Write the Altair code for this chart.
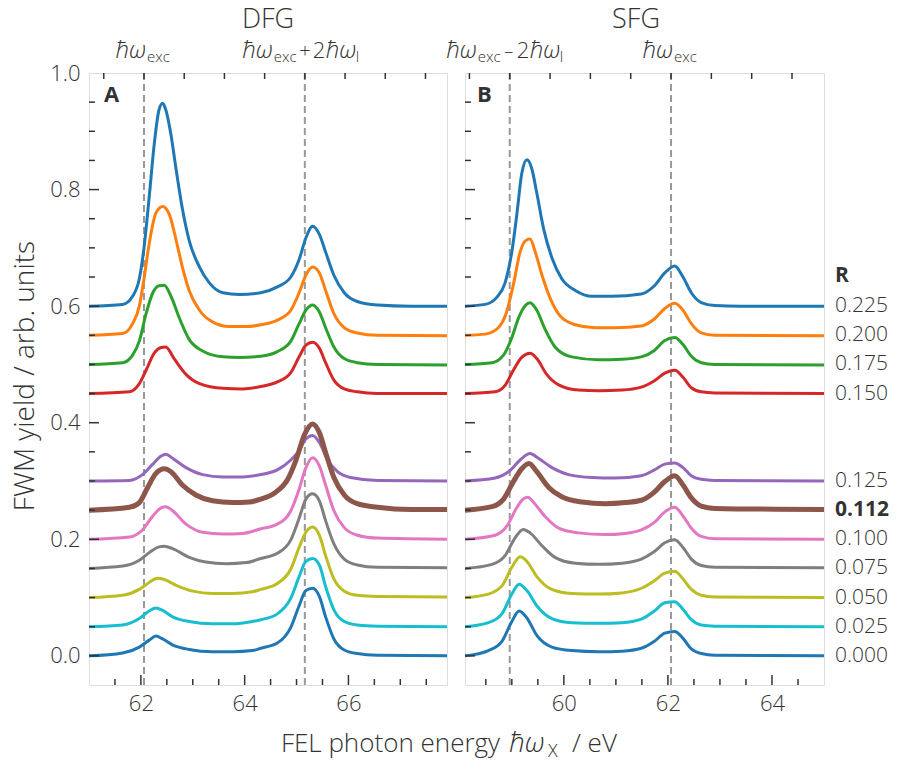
import altair as alt
import pandas as pd

FONT = "Open Sans"
TXT = "#333333"

# ---------------- data ----------------
R_LABELS = ["0.225", "0.200", "0.175", "0.150", "0.125", "0.112",
            "0.100", "0.075", "0.050", "0.025", "0.000"]
OFFSETS = [0.60, 0.55, 0.50, 0.45, 0.30, 0.25, 0.20, 0.15, 0.10, 0.05, 0.00]
COLORS = ["#1f77b4", "#ff7f0e", "#2ca02c", "#d62728", "#9467bd", "#8c564b",
          "#e377c2", "#7f7f7f", "#bcbd22", "#17becf", "#1f77b4"]
R_TITLE_Y = 0.652

# resonance positions (eV)
DASH_A = [62.06, 65.16]
DASH_B = [58.96, 62.06]
TOP_TICKS_A = [61.285, 62.06, 62.835, 63.61, 64.385, 65.16, 65.935, 66.71, 67.485]
TOP_TICKS_B = [58.185, 58.96, 59.735, 60.51, 61.285, 62.06, 62.835, 63.61, 64.385]
X_MAJOR_A = [62, 64, 66]
X_MINOR_A = [61.5, 62.5, 63, 63.5, 64.5, 65, 65.5, 66.5, 67, 67.5]
X_MAJOR_B = [60, 62, 64]
X_MINOR_B = [58.5, 59, 59.5, 60.5, 61, 61.5, 62.5, 63, 63.5, 64.5]
Y_MAJOR = [0.0, 0.2, 0.4, 0.6, 0.8]
Y_MINOR = [0.05, 0.1, 0.15, 0.25, 0.3, 0.35, 0.45, 0.5, 0.55, 0.65, 0.7,
           0.75, 0.85, 0.9, 0.95]
Y_LABELS = [0.0, 0.2, 0.4, 0.6, 0.8, 1.0]

# ---- panel A (DFG) curves ----
A0225_X = [61.00, 61.65, 61.84, 61.97, 62.06, 62.16, 62.26, 62.35, 62.42, 62.48, 62.58, 62.68, 62.80, 62.93, 63.13, 63.32, 63.58, 63.90,
           64.31, 64.63, 64.89, 65.05, 65.18, 65.31, 65.44, 65.56, 65.72, 65.92, 66.17, 66.56, 67.20, 67.90]
A0225_Y = [0.600, 0.603, 0.617, 0.647, 0.700, 0.787, 0.880, 0.937, 0.948, 0.937, 0.894, 0.834, 0.767, 0.713, 0.667, 0.640, 0.623, 0.620,
           0.623, 0.633, 0.650, 0.680, 0.717, 0.737, 0.723, 0.693, 0.653, 0.623, 0.608, 0.602, 0.600, 0.600]
A0200_X = [61.00, 61.65, 61.84, 61.97, 62.06, 62.16, 62.29, 62.42, 62.55, 62.68, 62.80, 62.93, 63.13, 63.38, 63.70, 64.03,
           64.31, 64.63, 64.89, 65.05, 65.18, 65.31, 65.44, 65.56, 65.72, 65.92, 66.17, 66.56, 67.90]
A0200_Y = [0.550, 0.553, 0.570, 0.600, 0.647, 0.707, 0.760, 0.771, 0.757, 0.713, 0.667, 0.627, 0.593, 0.573, 0.565, 0.565,
           0.568, 0.576, 0.593, 0.623, 0.653, 0.667, 0.657, 0.627, 0.587, 0.563, 0.554, 0.550, 0.549]
A0175_X = [61.00, 61.65, 61.84, 61.97, 62.10, 62.23, 62.35, 62.45, 62.58, 62.74, 62.93, 63.19, 63.58, 63.90,
           64.31, 64.63, 64.89, 65.05, 65.18, 65.31, 65.44, 65.56, 65.72, 65.92, 66.17, 66.56, 67.90]
A0175_Y = [0.500, 0.503, 0.516, 0.540, 0.587, 0.623, 0.635, 0.636, 0.617, 0.580, 0.543, 0.523, 0.513, 0.512,
           0.514, 0.522, 0.540, 0.570, 0.593, 0.602, 0.590, 0.563, 0.530, 0.510, 0.503, 0.500, 0.499]
A0150_X = [61.00, 61.78, 61.97, 62.10, 62.26, 62.39, 62.48, 62.64, 62.87, 63.13, 63.58, 63.96,
           64.31, 64.63, 64.89, 65.05, 65.18, 65.31, 65.44, 65.56, 65.72, 65.92, 66.17, 66.56, 67.90]
A0150_Y = [0.450, 0.453, 0.467, 0.490, 0.520, 0.529, 0.530, 0.510, 0.483, 0.467, 0.459, 0.458,
           0.462, 0.470, 0.486, 0.513, 0.533, 0.538, 0.528, 0.503, 0.473, 0.458, 0.453, 0.450, 0.450]
A0125_X = [61.00, 61.78, 62.03, 62.23, 62.39, 62.48, 62.61, 62.87, 63.19, 63.58, 63.96,
           64.31, 64.63, 64.89, 65.05, 65.18, 65.31, 65.44, 65.60, 65.79, 66.04, 66.56, 67.90]
A0125_Y = [0.300, 0.301, 0.311, 0.329, 0.343, 0.346, 0.339, 0.323, 0.311, 0.307, 0.307,
           0.311, 0.319, 0.336, 0.352, 0.372, 0.378, 0.366, 0.336, 0.316, 0.306, 0.301, 0.300]
A0112_X = [61.00, 61.78, 61.97, 62.13, 62.29, 62.45, 62.58, 62.80, 63.06, 63.38, 63.77, 64.09,
           64.31, 64.57, 64.83, 64.99, 65.15, 65.31, 65.44, 65.56, 65.72, 65.92, 66.17, 66.56, 67.20, 67.90]
A0112_Y = [0.250, 0.255, 0.263, 0.289, 0.313, 0.321, 0.316, 0.293, 0.276, 0.266, 0.263, 0.264,
           0.269, 0.279, 0.303, 0.336, 0.379, 0.398, 0.383, 0.349, 0.306, 0.276, 0.261, 0.255, 0.251, 0.251]
A0100_X = [61.00, 61.78, 62.03, 62.23, 62.39, 62.48, 62.61, 62.87, 63.19, 63.58, 63.96,
           64.31, 64.63, 64.89, 65.05, 65.18, 65.31, 65.44, 65.56, 65.72, 65.92, 66.17, 66.56, 67.90]
A0100_Y = [0.200, 0.204, 0.216, 0.240, 0.254, 0.256, 0.249, 0.226, 0.212, 0.209, 0.210,
           0.218, 0.226, 0.249, 0.286, 0.323, 0.340, 0.326, 0.293, 0.249, 0.220, 0.207, 0.202, 0.200]
A0075_X = [61.00, 61.65, 61.97, 62.19, 62.35, 62.45, 62.61, 62.93, 63.25, 63.64, 64.03,
           64.31, 64.63, 64.89, 65.05, 65.18, 65.31, 65.44, 65.56, 65.72, 65.92, 66.17, 66.56, 67.90]
A0075_Y = [0.150, 0.154, 0.164, 0.179, 0.187, 0.188, 0.184, 0.169, 0.161, 0.158, 0.160,
           0.167, 0.176, 0.199, 0.236, 0.269, 0.278, 0.266, 0.232, 0.192, 0.166, 0.156, 0.152, 0.151]
A0050_X = [61.00, 61.65, 61.97, 62.16, 62.32, 62.45, 62.68, 63.00, 63.38, 63.77, 64.15,
           64.31, 64.63, 64.89, 65.05, 65.18, 65.31, 65.44, 65.56, 65.72, 65.92, 66.17, 66.56, 67.90]
A0050_Y = [0.100, 0.104, 0.114, 0.126, 0.133, 0.131, 0.121, 0.111, 0.107, 0.107, 0.110,
           0.114, 0.124, 0.149, 0.186, 0.212, 0.221, 0.207, 0.172, 0.132, 0.111, 0.104, 0.102, 0.101]
A0025_X = [61.00, 61.65, 61.97, 62.16, 62.29, 62.42, 62.61, 62.93, 63.38, 63.77, 64.15,
           64.31, 64.63, 64.89, 65.05, 65.18, 65.31, 65.44, 65.56, 65.72, 65.92, 66.17, 66.56, 67.90]
A0025_Y = [0.050, 0.053, 0.064, 0.077, 0.082, 0.078, 0.067, 0.059, 0.055, 0.055, 0.059,
           0.062, 0.072, 0.099, 0.136, 0.162, 0.167, 0.156, 0.119, 0.079, 0.059, 0.053, 0.051, 0.050]
A0000_X = [61.00, 61.65, 61.97, 62.16, 62.29, 62.42, 62.61, 62.93, 63.38, 63.77, 64.15,
           64.31, 64.63, 64.89, 65.05, 65.18, 65.31, 65.44, 65.56, 65.72, 65.92, 66.17, 66.56, 67.90]
A0000_Y = [0.000, 0.005, 0.015, 0.027, 0.034, 0.029, 0.019, 0.011, 0.007, 0.007, 0.009,
           0.013, 0.022, 0.049, 0.086, 0.112, 0.116, 0.102, 0.067, 0.029, 0.010, 0.004, 0.001, 0.000]

# ---- panel B (SFG) curves ----
B0225_X = [58.10, 58.49, 58.71, 58.87, 59.00, 59.10, 59.19, 59.29, 59.38, 59.48, 59.61, 59.77, 59.96, 60.22, 60.54, 60.92,
           61.49, 61.74, 61.94, 62.13, 62.29, 62.45, 62.64, 62.90, 63.41, 65.00]
B0225_Y = [0.600, 0.603, 0.615, 0.640, 0.693, 0.760, 0.827, 0.851, 0.837, 0.794, 0.733, 0.683, 0.647, 0.627, 0.617, 0.617,
           0.621, 0.635, 0.657, 0.669, 0.650, 0.623, 0.606, 0.601, 0.600, 0.600]
B0200_X = [58.10, 58.49, 58.74, 58.90, 59.03, 59.16, 59.26, 59.35, 59.45, 59.58, 59.74, 59.93, 60.22, 60.60, 60.99,
           61.49, 61.74, 61.94, 62.13, 62.29, 62.45, 62.64, 62.90, 65.00]
B0200_Y = [0.550, 0.552, 0.563, 0.590, 0.637, 0.693, 0.712, 0.715, 0.693, 0.653, 0.613, 0.583, 0.568, 0.563, 0.563,
           0.566, 0.578, 0.596, 0.605, 0.593, 0.570, 0.554, 0.550, 0.549]
B0175_X = [58.10, 58.62, 58.84, 59.00, 59.13, 59.26, 59.35, 59.48, 59.64, 59.83, 60.15, 60.67, 61.12,
           61.49, 61.74, 61.94, 62.13, 62.29, 62.45, 62.64, 62.90, 65.00]
B0175_Y = [0.500, 0.503, 0.516, 0.546, 0.580, 0.601, 0.606, 0.593, 0.560, 0.530, 0.513, 0.508, 0.509,
           0.513, 0.524, 0.541, 0.546, 0.534, 0.514, 0.503, 0.500, 0.499]
B0150_X = [58.10, 58.68, 58.87, 59.03, 59.19, 59.35, 59.48, 59.67, 59.90, 60.28, 60.67, 61.12,
           61.49, 61.74, 61.94, 62.13, 62.29, 62.45, 62.64, 62.90, 65.00]
B0150_Y = [0.450, 0.453, 0.464, 0.490, 0.512, 0.519, 0.510, 0.483, 0.465, 0.456, 0.455, 0.456,
           0.461, 0.472, 0.485, 0.490, 0.478, 0.460, 0.453, 0.451, 0.450]
B0125_X = [58.10, 58.68, 58.94, 59.16, 59.35, 59.51, 59.77, 60.09, 60.54, 60.99,
           61.49, 61.74, 61.94, 62.13, 62.29, 62.45, 62.64, 62.90, 65.00]
B0125_Y = [0.300, 0.305, 0.316, 0.336, 0.347, 0.339, 0.323, 0.311, 0.306, 0.305,
           0.309, 0.319, 0.329, 0.331, 0.323, 0.309, 0.303, 0.301, 0.300]
B0112_X = [58.10, 58.62, 58.84, 59.03, 59.19, 59.33, 59.48, 59.71, 59.96, 60.35, 60.79, 61.18,
           61.49, 61.74, 61.94, 62.13, 62.29, 62.45, 62.64, 62.90, 65.00]
B0112_Y = [0.250, 0.256, 0.269, 0.299, 0.321, 0.330, 0.316, 0.289, 0.273, 0.264, 0.261, 0.263,
           0.267, 0.281, 0.299, 0.309, 0.293, 0.271, 0.257, 0.253, 0.251]
B0100_X = [58.10, 58.68, 58.90, 59.10, 59.22, 59.31, 59.42, 59.64, 59.90, 60.28, 60.79, 61.18,
           61.49, 61.74, 61.94, 62.13, 62.29, 62.45, 62.64, 62.90, 65.00]
B0100_Y = [0.200, 0.207, 0.222, 0.255, 0.269, 0.272, 0.263, 0.239, 0.219, 0.211, 0.208, 0.210,
           0.216, 0.229, 0.247, 0.255, 0.240, 0.219, 0.205, 0.201, 0.200]
B0075_X = [58.10, 58.62, 58.87, 59.06, 59.22, 59.35, 59.58, 59.83, 60.22, 60.67, 61.12,
           61.49, 61.74, 61.94, 62.13, 62.29, 62.45, 62.64, 62.90, 65.00]
B0075_Y = [0.150, 0.157, 0.172, 0.202, 0.217, 0.211, 0.189, 0.169, 0.159, 0.157, 0.159,
           0.166, 0.179, 0.194, 0.199, 0.186, 0.166, 0.155, 0.152, 0.151]
B0050_X = [58.10, 58.55, 58.81, 59.00, 59.16, 59.29, 59.48, 59.77, 60.15, 60.67, 61.12,
           61.49, 61.74, 61.94, 62.13, 62.29, 62.45, 62.64, 62.90, 65.00]
B0050_Y = [0.100, 0.106, 0.120, 0.152, 0.170, 0.162, 0.136, 0.114, 0.107, 0.106, 0.108,
           0.116, 0.129, 0.142, 0.145, 0.132, 0.114, 0.104, 0.101, 0.100]
B0025_X = [58.10, 58.55, 58.81, 59.00, 59.14, 59.29, 59.48, 59.77, 60.15, 60.67, 61.12,
           61.49, 61.74, 61.94, 62.13, 62.29, 62.45, 62.64, 62.90, 65.00]
B0025_Y = [0.050, 0.057, 0.072, 0.106, 0.123, 0.112, 0.086, 0.064, 0.057, 0.056, 0.057,
           0.063, 0.077, 0.091, 0.093, 0.080, 0.062, 0.053, 0.051, 0.050]
B0000_X = [58.10, 58.55, 58.81, 59.00, 59.14, 59.29, 59.48, 59.77, 60.15, 60.67, 61.12,
           61.49, 61.74, 61.94, 62.13, 62.29, 62.45, 62.64, 62.90, 65.00]
B0000_Y = [0.000, 0.009, 0.025, 0.059, 0.077, 0.065, 0.035, 0.015, 0.009, 0.007, 0.008,
           0.013, 0.025, 0.039, 0.042, 0.030, 0.012, 0.004, 0.001, 0.000]

A_CURVES = [(A0225_X, A0225_Y), (A0200_X, A0200_Y), (A0175_X, A0175_Y), (A0150_X, A0150_Y),
            (A0125_X, A0125_Y), (A0112_X, A0112_Y), (A0100_X, A0100_Y), (A0075_X, A0075_Y),
            (A0050_X, A0050_Y), (A0025_X, A0025_Y), (A0000_X, A0000_Y)]
B_CURVES = [(B0225_X, B0225_Y), (B0200_X, B0200_Y), (B0175_X, B0175_Y), (B0150_X, B0150_Y),
            (B0125_X, B0125_Y), (B0112_X, B0112_Y), (B0100_X, B0100_Y), (B0075_X, B0075_Y),
            (B0050_X, B0050_Y), (B0025_X, B0025_Y), (B0000_X, B0000_Y)]

# ---------------- layout ----------------
W_A, W_B, H = 358, 359, 612
Y_SCALE = alt.Scale(domain=[-0.05, 1.0], nice=False, zero=False)
XA_SCALE = alt.Scale(domain=[61.0, 67.9], nice=False, zero=False)
XB_SCALE = alt.Scale(domain=[58.1, 65.0], nice=False, zero=False)


def x_enc(scale, labels):
    return alt.X("x:Q", scale=scale, title=None,
                 axis=alt.Axis(values=labels, format="d", ticks=False, tickSize=0, domain=False,
                               grid=False, labelFont=FONT, labelFontSize=22, labelColor=TXT,
                               labelFontWeight=300, labelPadding=8, labelFlush=False,
                               labelOverlap=False, title=None))


def y_enc(show):
    if show:
        ax = alt.Axis(values=Y_LABELS, format=".1f", ticks=False, tickSize=0, domain=False,
                      grid=False, labelFont=FONT, labelFontSize=22, labelColor=TXT,
                      labelFontWeight=300, labelPadding=9, labelFlush=False,
                      labelOverlap=False, title=None)
    else:
        ax = None
    return alt.Y("y:Q", scale=Y_SCALE, title=None, axis=ax)


def text_px(t, x, y, size, weight=300, style="normal", align="left", baseline="alphabetic",
            angle=0):
    return alt.Chart(pd.DataFrame({"t": [t]})).mark_text(
        font=FONT, fontSize=size, fontWeight=weight, fontStyle=style, align=align,
        baseline=baseline, angle=angle, color=TXT
    ).encode(x=alt.value(x), y=alt.value(y), text="t:N")


def text_at(t, xval, X, dx, y, size, style="normal", align="left"):
    return alt.Chart(pd.DataFrame({"x": [xval], "t": [t]})).mark_text(
        font=FONT, fontSize=size, fontWeight=300, fontStyle=style, align=align,
        baseline="alphabetic", dx=dx, color=TXT
    ).encode(x=X, y=alt.value(y), text="t:N")


def panel(curves, xscale, xlabels, xminor, dashes, top_ticks, show_y):
    X = x_enc(xscale, xlabels)
    Y = y_enc(show_y)
    layers = []
    layers.append(alt.Chart(pd.DataFrame({"x": dashes})).mark_rule(
        color="#999999", strokeWidth=2, strokeDash=[7, 4]).encode(x=X))
    for i, (xs, ys) in enumerate(curves):
        df = pd.DataFrame({"x": xs, "y": ys})
        layers.append(alt.Chart(df).mark_line(
            interpolate="monotone", color=COLORS[i], strokeWidth=5 if i == 5 else 3,
            clip=True).encode(x=X, y=Y))
    tk = dict(color="#333333", strokeWidth=1.5)
    layers.append(alt.Chart(pd.DataFrame({"y": Y_MAJOR})).mark_rule(**tk).encode(
        y=Y, x=alt.value(0), x2=alt.value(10)))
    layers.append(alt.Chart(pd.DataFrame({"y": Y_MINOR})).mark_rule(**tk).encode(
        y=Y, x=alt.value(0), x2=alt.value(6)))
    layers.append(alt.Chart(pd.DataFrame({"x": xlabels})).mark_rule(**tk).encode(
        x=X, y=alt.value(H), y2=alt.value(H - 10)))
    layers.append(alt.Chart(pd.DataFrame({"x": xminor})).mark_rule(**tk).encode(
        x=X, y=alt.value(H), y2=alt.value(H - 6)))
    layers.append(alt.Chart(pd.DataFrame({"x": top_ticks})).mark_rule(**tk).encode(
        x=X, y=alt.value(0), y2=alt.value(6)))
    return layers, X, Y


# ---------- panel A ----------
layA, XA, YA = panel(A_CURVES, XA_SCALE, X_MAJOR_A, X_MINOR_A, DASH_A, TOP_TICKS_A, True)
LY, SY = -15, -11
layA += [
    text_px("A", 15, 29, 22, weight="bold"),
    text_px("DFG", W_A / 2, -45, 27, align="center"),
    text_at("ħω", DASH_A[0], XA, 2, LY, 24, style="italic", align="right"),
    text_at("exc", DASH_A[0], XA, 3, SY, 15),
    text_at("ħω", DASH_A[1], XA, -32, LY, 24, style="italic", align="right"),
    text_at("exc", DASH_A[1], XA, -31, SY, 15),
    text_at("+", DASH_A[1], XA, 0, LY, 20, align="center"),
    text_at("2", DASH_A[1], XA, 8, LY, 22),
    text_at("ħω", DASH_A[1], XA, 21, LY, 24, style="italic"),
    text_at("l", DASH_A[1], XA, 51, SY, 15),
    # shared axis titles
    text_px("FWM yield / arb. units", -55, 303, 28, angle=270, align="center"),
    text_px("FEL photon energy", 411, 679, 26, align="right"),
    text_px("ħω", 420, 679, 28, style="italic"),
    text_px("X", 459, 684, 18),
    text_px("/ eV", 483, 679, 26),
    # invisible layout anchor (keeps the plot at the reference position)
    alt.Chart(pd.DataFrame({"a": [0]})).mark_rule(opacity=0, color="white").encode(
        x=alt.value(-80), x2=alt.value(-79), y=alt.value(-60), y2=alt.value(-59)),
]
chartA = alt.layer(*layA).properties(width=W_A, height=H)

# ---------- panel B ----------
layB, XB, YB = panel(B_CURVES, XB_SCALE, X_MAJOR_B, X_MINOR_B, DASH_B, TOP_TICKS_B, False)
layB += [
    text_px("B", 12, 29, 22, weight="bold"),
    text_px("SFG", 171, -45, 27, align="center"),
    text_at("ħω", DASH_B[0], XB, -33, LY, 24, style="italic", align="right"),
    text_at("exc", DASH_B[0], XB, -32, SY, 15),
    text_at("–", DASH_B[0], XB, -1, LY, 18, align="center"),
    text_at("2", DASH_B[0], XB, 7, LY, 22),
    text_at("ħω", DASH_B[0], XB, 20, LY, 24, style="italic"),
    text_at("l", DASH_B[0], XB, 50, SY, 15),
    text_at("ħω", DASH_B[1], XB, 2, LY, 24, style="italic", align="right"),
    text_at("exc", DASH_B[1], XB, 3, SY, 15),
]
rdf = pd.DataFrame({"y": OFFSETS + [R_TITLE_Y], "t": R_LABELS + ["R"],
                    "b": ["bold" if r in ("0.112",) else "normal" for r in R_LABELS] + ["bold"]})
layB.append(alt.Chart(rdf[rdf.b == "normal"]).mark_text(
    font=FONT, fontSize=21, fontWeight=300, align="left", baseline="middle", color=TXT
).encode(x=alt.value(W_B + 11), y=YB, text="t:N"))
layB.append(alt.Chart(rdf[rdf.b == "bold"]).mark_text(
    font=FONT, fontSize=21, fontWeight="bold", align="left", baseline="middle", color=TXT
).encode(x=alt.value(W_B + 11), y=YB, text="t:N"))
chartB = alt.layer(*layB).properties(width=W_B, height=H)

chart = alt.hconcat(chartA, chartB, spacing=18, bounds="flush").properties(
    padding={"left": 0, "top": -3, "right": 0, "bottom": 0}
).configure_view(stroke="#333333", strokeWidth=2).configure(background="white")

chart.save("out.html", embed_options={"renderer": "svg", "actions": False})
